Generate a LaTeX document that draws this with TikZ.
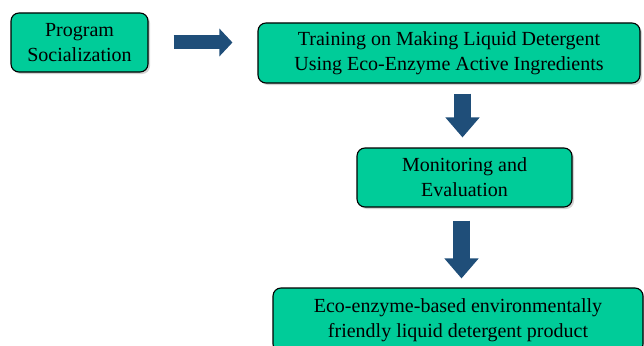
\documentclass[tikz,border=0pt]{standalone}
\usepackage{fontspec}
\setmainfont{Liberation Serif}
\usetikzlibrary{arrows.meta,shadows}
\definecolor{boxgreen}{RGB}{0,204,153}
\definecolor{arrowblue}{RGB}{31,78,121}

\begin{document}
\begin{tikzpicture}[x=1pt,y=-1pt,
  stagebox/.style={draw=black, line width=1.1pt, fill=boxgreen, rounded corners=8pt,
    align=center, inner sep=0pt, font=\fontsize{20}{25}\selectfont,
    drop shadow={opacity=0.35, shadow xshift=2pt, shadow yshift=-2pt}},
  blockarrow/.style={draw=arrowblue, line width=17pt, -{Triangle[width=33pt,length=20pt]}}]
  \useasboundingbox (0,0) rectangle (644,345);
  \clip (0,0) rectangle (644,345);

  \node (prog) at (79.5,42.5) [stagebox, minimum width=137pt, minimum height=59pt] {Program\\Socialization};
  \node (train) at (449,53) [stagebox, minimum width=382pt, minimum height=60pt] {Training on Making Liquid Detergent\\Using Eco-Enzyme Active Ingredients};
  \node (monitor) at (464.5,177.5) [stagebox, minimum width=215pt, minimum height=59pt] {Monitoring and\\Evaluation};
  \node (product) at (458,320) [stagebox, minimum width=370pt, minimum height=64pt] {Eco-enzyme-based environmentally\\friendly liquid detergent product};

  \draw[blockarrow, line width=14pt, -{Triangle[width=27pt,length=13pt]}, shorten <=25pt, shorten >=25pt]
    (prog.east) -- (prog.east -| train.west);
  \draw[blockarrow, shorten <=10pt, shorten >=10pt]
    ([xshift=-2pt]monitor.north |- train.south) -- ([xshift=-2pt]monitor.north);
  \draw[blockarrow, shorten <=13pt, shorten >=9pt]
    ([xshift=-3pt]monitor.south) -- ([xshift=-3pt]monitor.south |- product.north);
\end{tikzpicture}
\end{document}
